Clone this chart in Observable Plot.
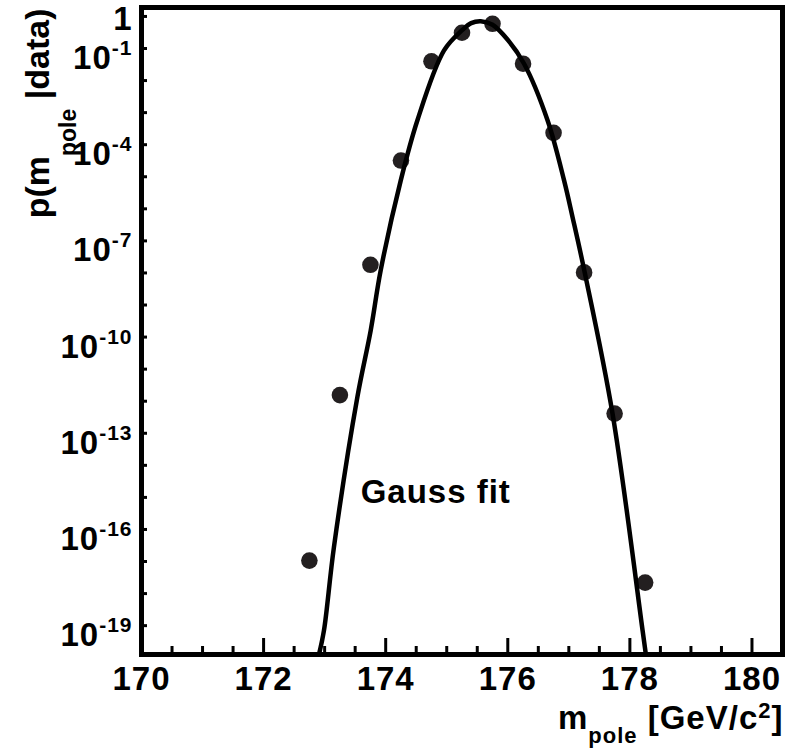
<!DOCTYPE html>
<html><head><meta charset="utf-8">
<script src="https://cdn.jsdelivr.net/npm/d3@7"></script>
<script src="https://cdn.jsdelivr.net/npm/@observablehq/plot@0.6"></script>
<style>body{margin:0;background:#fff;}</style>
</head><body><div id="chart"></div>
<script>
// Data points (m_pole in GeV/c^2, probability)
const massPoints = [172.75, 173.25, 173.75, 174.25, 174.75, 175.25, 175.75, 176.25, 176.75, 177.25, 177.75, 178.25];
const probPoints = [1.07e-17, 1.55e-12, 1.8e-8, 3.2e-5, 0.040, 0.31, 0.59, 0.0335, 2.35e-4, 1.04e-8, 4.1e-13, 2.2e-18];

// Gauss fit curve
const fitMass = [172.907, 172.989, 173.152, 173.536, 173.754, 173.918, 174.246, 174.52, 174.956, 175.257, 175.4, 175.557, 175.75, 175.995, 176.267, 176.651, 176.923, 177.061, 177.262, 177.716, 178.208, 178.262];
const fitProb = [1.26e-20, 7.1e-20, 2.8e-17, 1.35e-12, 1.6e-10, 1.2e-8, 7.6e-6, 5.8e-4, 0.087, 0.38, 0.62, 0.71, 0.55, 0.19, 0.0335, 5.8e-4, 7.6e-6, 5.5e-7, 1.0e-8, 4.1e-13, 7.1e-20, 1.26e-20];

// Axis ticks and labels
const xMajorTicks = [170, 172, 174, 176, 178, 180];
const xMinorTicks = [170.5, 171, 171.5, 172.5, 173, 173.5, 174.5, 175, 175.5, 176.5, 177, 177.5, 178.5, 179, 179.5];
const yTicks = [1, 1e-1, 1e-2, 1e-3, 1e-4, 1e-5, 1e-6, 1e-7, 1e-8, 1e-9, 1e-10, 1e-11, 1e-12, 1e-13, 1e-14, 1e-15, 1e-16, 1e-17, 1e-18, 1e-19];
const yLabelTicks = [1, 1e-1, 1e-4, 1e-7, 1e-10, 1e-13, 1e-16, 1e-19];
const yLabelText = ["1", "10^-1", "10^-4", "10^-7", "10^-10", "10^-13", "10^-16", "10^-19"];

// Texts
const xTitleParts = ["m", "pole", " [GeV/c", "2", "]"];
const yTitleParts = ["p(m", "pole", " |data)"];
const fitLabelText = ["Gauss fit"];
const fitLabelX = [173.59];
const fitLabelY = [6.8e-16];

const dots = massPoints.map((m, i) => ({m, p: probPoints[i]}));
const fit = fitMass.map((m, i) => ({m, p: fitProb[i]}));
const xTitle = xTitleParts.join("");
const yTitle = yTitleParts.join("");

const plot = Plot.plot({
  width: 790,
  height: 749,
  marginLeft: 141,
  marginRight: 8,
  marginTop: 7,
  marginBottom: 95,
  style: {fontFamily: "'Liberation Sans', Arial, Helvetica, sans-serif", fontWeight: "bold", fontSize: "33px", color: "#000", background: "#fff", letterSpacing: "1px"},
  x: {domain: [170, 180.5]},
  y: {type: "log", domain: [1.26e-20, 1.9]},
  marks: [
    Plot.dot(dots, {x: "m", y: "p", r: 8.3, fill: "#231f20", stroke: "none"}),
    Plot.line(fit, {x: "m", y: "p", stroke: "#000", strokeWidth: 4.5, curve: "catmull-rom", clip: true}),
    Plot.axisX({ticks: xMinorTicks, tickSize: -8, strokeWidth: 3, tickFormat: () => "", label: null}),
    Plot.axisX({ticks: xMajorTicks, tickSize: -16, strokeWidth: 3, tickFormat: () => "", label: null}),
    Plot.axisX({ticks: xMajorTicks, tickSize: 0, tickPadding: 12, tickFormat: d => String(d), label: null, fontSize: 33}),
    Plot.axisY({ticks: yTicks, tickSize: -6, strokeWidth: 3, tickFormat: () => "", label: null}),
    Plot.axisY({ticks: yLabelTicks, tickSize: 0, tickPadding: 9, tickFormat: d => yLabelText[yLabelTicks.indexOf(d)], label: null, fontSize: 33}),
    Plot.text(fitLabelText, {x: fitLabelX, y: fitLabelY, textAnchor: "start", lineAnchor: "bottom", fontSize: 33}),
    Plot.text([xTitle], {frameAnchor: "bottom-right", dx: 1, dy: 74, textAnchor: "end", lineAnchor: "bottom", fontSize: 33}),
    Plot.text([yTitle], {frameAnchor: "top-left", rotate: -90, dx: -93, dy: 1, textAnchor: "end", lineAnchor: "bottom", fontSize: 34}),
    Plot.frame({stroke: "#000", strokeWidth: 5})
  ]
});

document.getElementById("chart").appendChild(plot);

const NS = "http://www.w3.org/2000/svg";
function rich(el, parts) {
  el.textContent = "";
  for (const p of parts) {
    const ts = document.createElementNS(NS, "tspan");
    ts.textContent = p.t;
    if (p.dy) ts.setAttribute("dy", p.dy);
    if (p.size) ts.setAttribute("font-size", p.size);
    el.appendChild(ts);
  }
}

const yLabelSet = new Set(yLabelText);
Array.from(plot.querySelectorAll("text")).forEach(t => {
  const s = t.textContent;
  if (yLabelSet.has(s)) {
    if (s.includes("^")) {
      const [b, e] = s.split("^");
      rich(t, [{t: b}, {t: e, dy: -14, size: 21}]);
      t.setAttribute("dy", "10");
    } else {
      t.setAttribute("dy", "3");
    }
  } else if (s === xTitle) {
    rich(t, [
      {t: xTitleParts[0]},
      {t: xTitleParts[1], dy: 14, size: 22},
      {t: xTitleParts[2], dy: -14},
      {t: xTitleParts[3], dy: -11, size: 22},
      {t: xTitleParts[4], dy: 11}
    ]);
  } else if (s === yTitle) {
    t.style.letterSpacing = "0px";
    rich(t, [
      {t: yTitleParts[0]},
      {t: yTitleParts[1], dy: 27, size: 23},
      {t: yTitleParts[2], dy: -27}
    ]);
  }
});
</script>
</body></html>
